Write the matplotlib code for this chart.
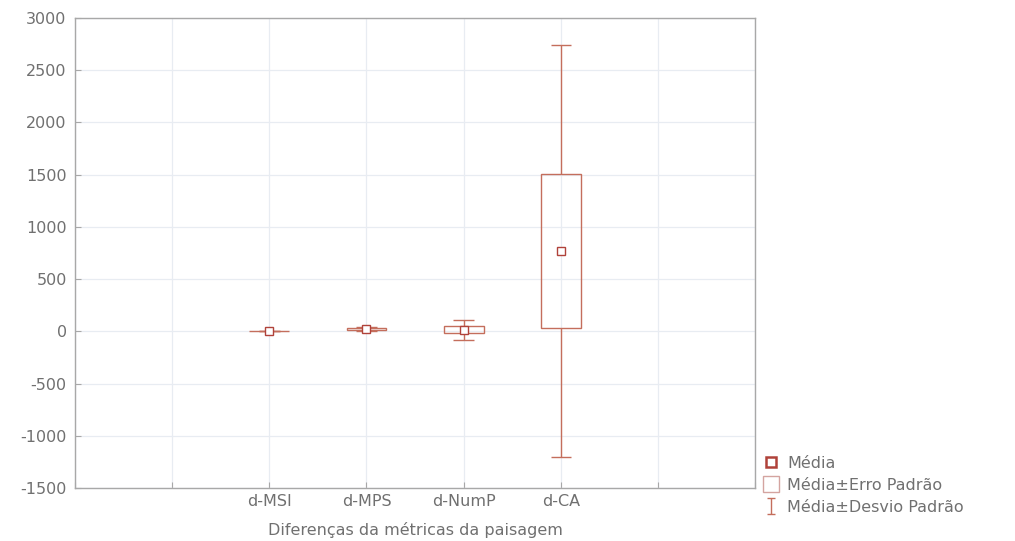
import matplotlib
matplotlib.use("Agg")
import matplotlib.pyplot as plt
from matplotlib.patches import Rectangle
from matplotlib.lines import Line2D
from matplotlib.path import Path

plt.rcParams['font.family'] = ['DejaVu Sans']

categories = ["d-MSI", "d-MPS", "d-NumP", "d-CA"]
means = [1, 22, 15, 770]
std_err = [1, 8, 33, 740]
std_dev = [2, 18, 95, 1970]
yticks = [-1500, -1000, -500, 0, 500, 1000, 1500, 2000, 2500, 3000]

line_col = "#c46e5c"
mean_col = "#b0423a"
text_col = "#707070"
axis_col = "#a8a8a8"
grid_col = "#e8ecf2"
fs = 11.5

fig = plt.figure(figsize=(10.15, 5.41), dpi=100)
ax = fig.add_axes([0.0739, 0.098, 0.6700, 0.8687])

positions = list(range(1, len(categories) + 1))
box_w = 0.41
cap_w = 0.21
for x, m, se, sd in zip(positions, means, std_err, std_dev):
    ax.vlines(x, m + se, m + sd, color=line_col, lw=1.0, zorder=3)
    ax.vlines(x, m - sd, m - se, color=line_col, lw=1.0, zorder=3)
    ax.hlines([m - sd, m + sd], x - cap_w / 2, x + cap_w / 2, color=line_col, lw=1.0, zorder=3)
    ax.add_patch(Rectangle((x - box_w / 2, m - se), box_w, 2 * se, fill=False,
                           edgecolor=line_col, lw=1.0, zorder=4))
ax.plot(positions, means, ls="none", marker="s", ms=5.5, mfc="white", mec=mean_col, mew=1.0, zorder=5)

ax.set_xlim(-1, 6)
ax.set_ylim(-1500, 3000)
ax.set_xticks(range(-1, 7))
ax.set_xticklabels(["", ""] + categories + ["", ""])
ax.set_yticks(yticks)
ax.set_yticklabels([str(v) for v in yticks])
ax.grid(True, color=grid_col, lw=0.9)
ax.set_axisbelow(True)
for s in ax.spines.values():
    s.set_color(axis_col)
    s.set_linewidth(1.0)
ax.tick_params(axis="both", colors=axis_col, labelcolor=text_col, labelsize=fs,
               direction="in", length=4, width=0.8)
ax.tick_params(axis="y", pad=6)
ax.tick_params(axis="x", pad=4)
ax.set_xlabel("Diferenças da métricas da paisagem", color=text_col, fontsize=fs, labelpad=10)

i_marker = Path([(-0.5, 1), (0.5, 1), (0, 1), (0, -1), (-0.5, -1), (0.5, -1)],
                [Path.MOVETO, Path.LINETO, Path.MOVETO, Path.LINETO, Path.MOVETO, Path.LINETO])
h_mean = Line2D([], [], ls="none", marker="s", ms=7, mfc="white", mec=mean_col, mew=1.8)
h_box = Line2D([], [], ls="none", marker="s", ms=12, mfc="white", mec="#d4a4a0", mew=1.0)
h_err = Line2D([], [], ls="none", marker=i_marker, ms=12, mfc="none", mec=line_col, mew=1.0)
fig.legend([h_mean, h_box, h_err], ["Média", "Média±Erro Padrão", "Média±Desvio Padrão"],
           loc="upper left", bbox_to_anchor=(0.752, 0.158), frameon=False,
           fontsize=fs, labelcolor=text_col, handlelength=1.0, handletextpad=0.5,
           labelspacing=0.45, borderaxespad=0, borderpad=0)

fig.savefig("out.png", dpi=100, facecolor="white")
